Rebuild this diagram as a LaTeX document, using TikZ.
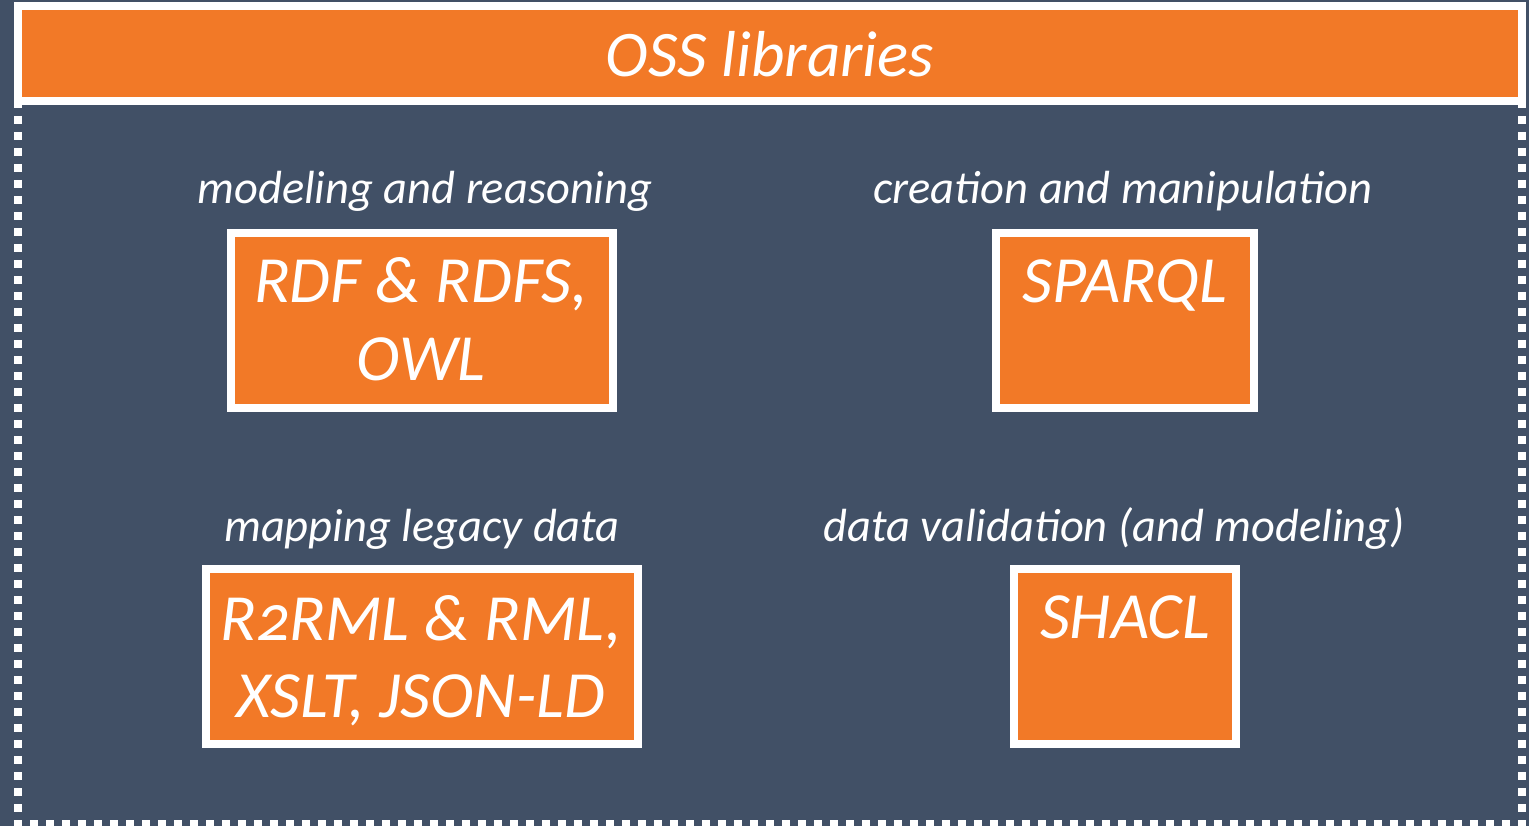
\documentclass[tikz,border=0pt]{standalone}
\usepackage{fontspec}
\setmainfont{Carlito}[Numbers=OldStyle]
\definecolor{slate}{RGB}{65,80,102}
\definecolor{tangerine}{RGB}{242,121,39}
\begin{document}
\begin{tikzpicture}[x=1pt,y=-1pt,
  panel/.style={draw=white,fill=tangerine,line width=8pt,rectangle,inner sep=0pt,outer sep=0pt},
  boxtext/.style={text=white,font=\fontsize{66}{72}\selectfont\itshape,inner sep=0pt,anchor=base},
  caption/.style={text=white,font=\fontsize{46.5}{52}\selectfont\itshape,inner sep=0pt,anchor=base},
  dotline/.style={draw=white,line width=8pt,dash pattern=on 8pt off 8pt}]
  \useasboundingbox (0,0) rectangle (1529,826);
  \fill[slate] (0,0) rectangle (1529,826);

  % dotted frame around the content area
  \coordinate (fl1) at (18,100);
  \coordinate (fl2) at (18,830);
  \coordinate (fr1) at (1522,100);
  \coordinate (fr2) at (1522,830);
  \coordinate (fb1) at (14,824);
  \coordinate (fb2) at (1530,824);
  \draw[dotline] (fl1) -- (fl2);
  \draw[dotline] (fr1) -- (fr2);
  \draw[dotline] (fb1) -- (fb2);

  % title bar
  \node[panel,minimum width=1504pt,minimum height=95pt] (head) at (770,53.5) {};
  \node[text=white,font=\fontsize{65}{71}\selectfont\itshape,inner sep=0pt,anchor=base] (title) at (770,77) {OSS libraries};

  % category panels
  \node[panel,minimum width=382pt,minimum height=175pt] (rdf) at (422,320.5) {};
  \node[panel,minimum width=258pt,minimum height=175pt] (sparql) at (1125,320.5) {};
  \node[panel,minimum width=432pt,minimum height=175pt] (rml) at (422,656.5) {};
  \node[panel,minimum width=222pt,minimum height=175pt] (shacl) at (1125,656.5) {};

  % captions
  \node[caption] (capA) at (425,204) {modeling and reasoning};
  \node[caption] (capB) at (1123,204) {creation and manipulation};
  \node[caption] (capC) at (422,541) {mapping legacy data};
  \node[caption] (capD) at (1114,541) {data validation (and modeling)};

  % panel contents
  \node[boxtext] (rdfA) at (421,303) {RDF \& RDFS,};
  \node[boxtext] (rdfB) at (421,380) {OWL};
  \node[boxtext] (sparqlA) at (1125,303) {SPARQL};
  \node[boxtext] (rmlA) at (421,640) {R2RML \& RML,};
  \node[boxtext] (rmlB) at (421,717) {XSLT, JSON-LD};
  \node[boxtext] (shaclA) at (1125,638) {SHACL};
\end{tikzpicture}
\end{document}
